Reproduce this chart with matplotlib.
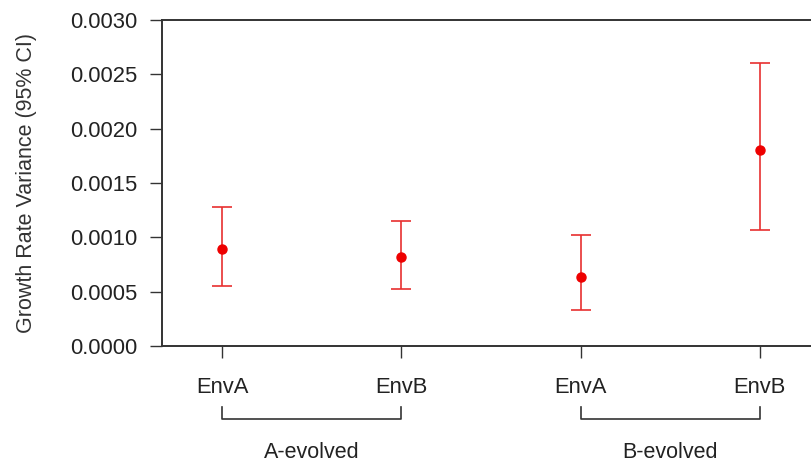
import matplotlib
matplotlib.use("Agg")
import matplotlib.pyplot as plt
from matplotlib.lines import Line2D
import matplotlib.transforms as mtransforms

plt.rcParams['font.family'] = ['Liberation Sans', 'DejaVu Sans']

# Data
env_labels = ["EnvA", "EnvB", "EnvA", "EnvB"]
groups = ["A-evolved", "B-evolved"]
means = [0.00089, 0.00082, 0.000635, 0.0018]
lower = [0.000552, 0.000525, 0.000331, 0.00107]
upper = [0.00128, 0.00115, 0.00102, 0.0026]
yticks = [0.0, 0.0005, 0.0010, 0.0015, 0.0020, 0.0025, 0.0030]

W, H = 812, 462
fig = plt.figure(figsize=(W / 100, H / 100), dpi=100)
left, right, top, bottom = 162, 812, 20, 346
ax = fig.add_axes([left / W, 1 - bottom / H, (right - left) / W, (bottom - top) / H])

xs = [1, 2, 3, 4]
yerr = [[m - l for m, l in zip(means, lower)], [u - m for m, u in zip(means, upper)]]
ax.errorbar(xs, means, yerr=yerr, fmt='o', color='#ee0000', ecolor='#e83030',
            elinewidth=1.2, capsize=7.5, capthick=1.2, markersize=6.5, zorder=3)

ax.set_xlim(1 - 60 / 179, 4 + 52 / 179)
ax.set_ylim(0, 0.003)
ax.set_yticks(yticks)
ax.set_yticklabels([f"{v:.4f}" for v in yticks])
ax.set_xticks(xs)
ax.set_xticklabels(env_labels)

ax.spines['right'].set_visible(False)
for s in ['left', 'top', 'bottom']:
    ax.spines[s].set_color('#333333')
    ax.spines[s].set_linewidth(1.4)

ax.tick_params(axis='both', direction='out', length=8.5, width=1.0, color='#333333',
               labelsize=15.8, labelcolor='#222222')
ax.tick_params(axis='y', pad=9)
ax.tick_params(axis='x', pad=14)
ax.set_ylabel("Growth Rate Variance (95% CI)", fontsize=15.5, color='#333333', labelpad=24)

trans = mtransforms.blended_transform_factory(ax.transData, ax.transAxes)
y_top = -61 / 326
y_bot = -73 / 326
y_lab = -107 / 326
for gi, g in enumerate(groups):
    x0, x1 = xs[2 * gi], xs[2 * gi + 1]
    ax.add_line(Line2D([x0, x0, x1, x1], [y_top, y_bot, y_bot, y_top], transform=trans,
                       color='#333333', lw=1.2, clip_on=False))
    ax.text((x0 + x1) / 2, y_lab, g, transform=trans, ha='center', va='center',
            fontsize=15.5, color='#222222')

fig.savefig("out.png", dpi=100, facecolor='white')
